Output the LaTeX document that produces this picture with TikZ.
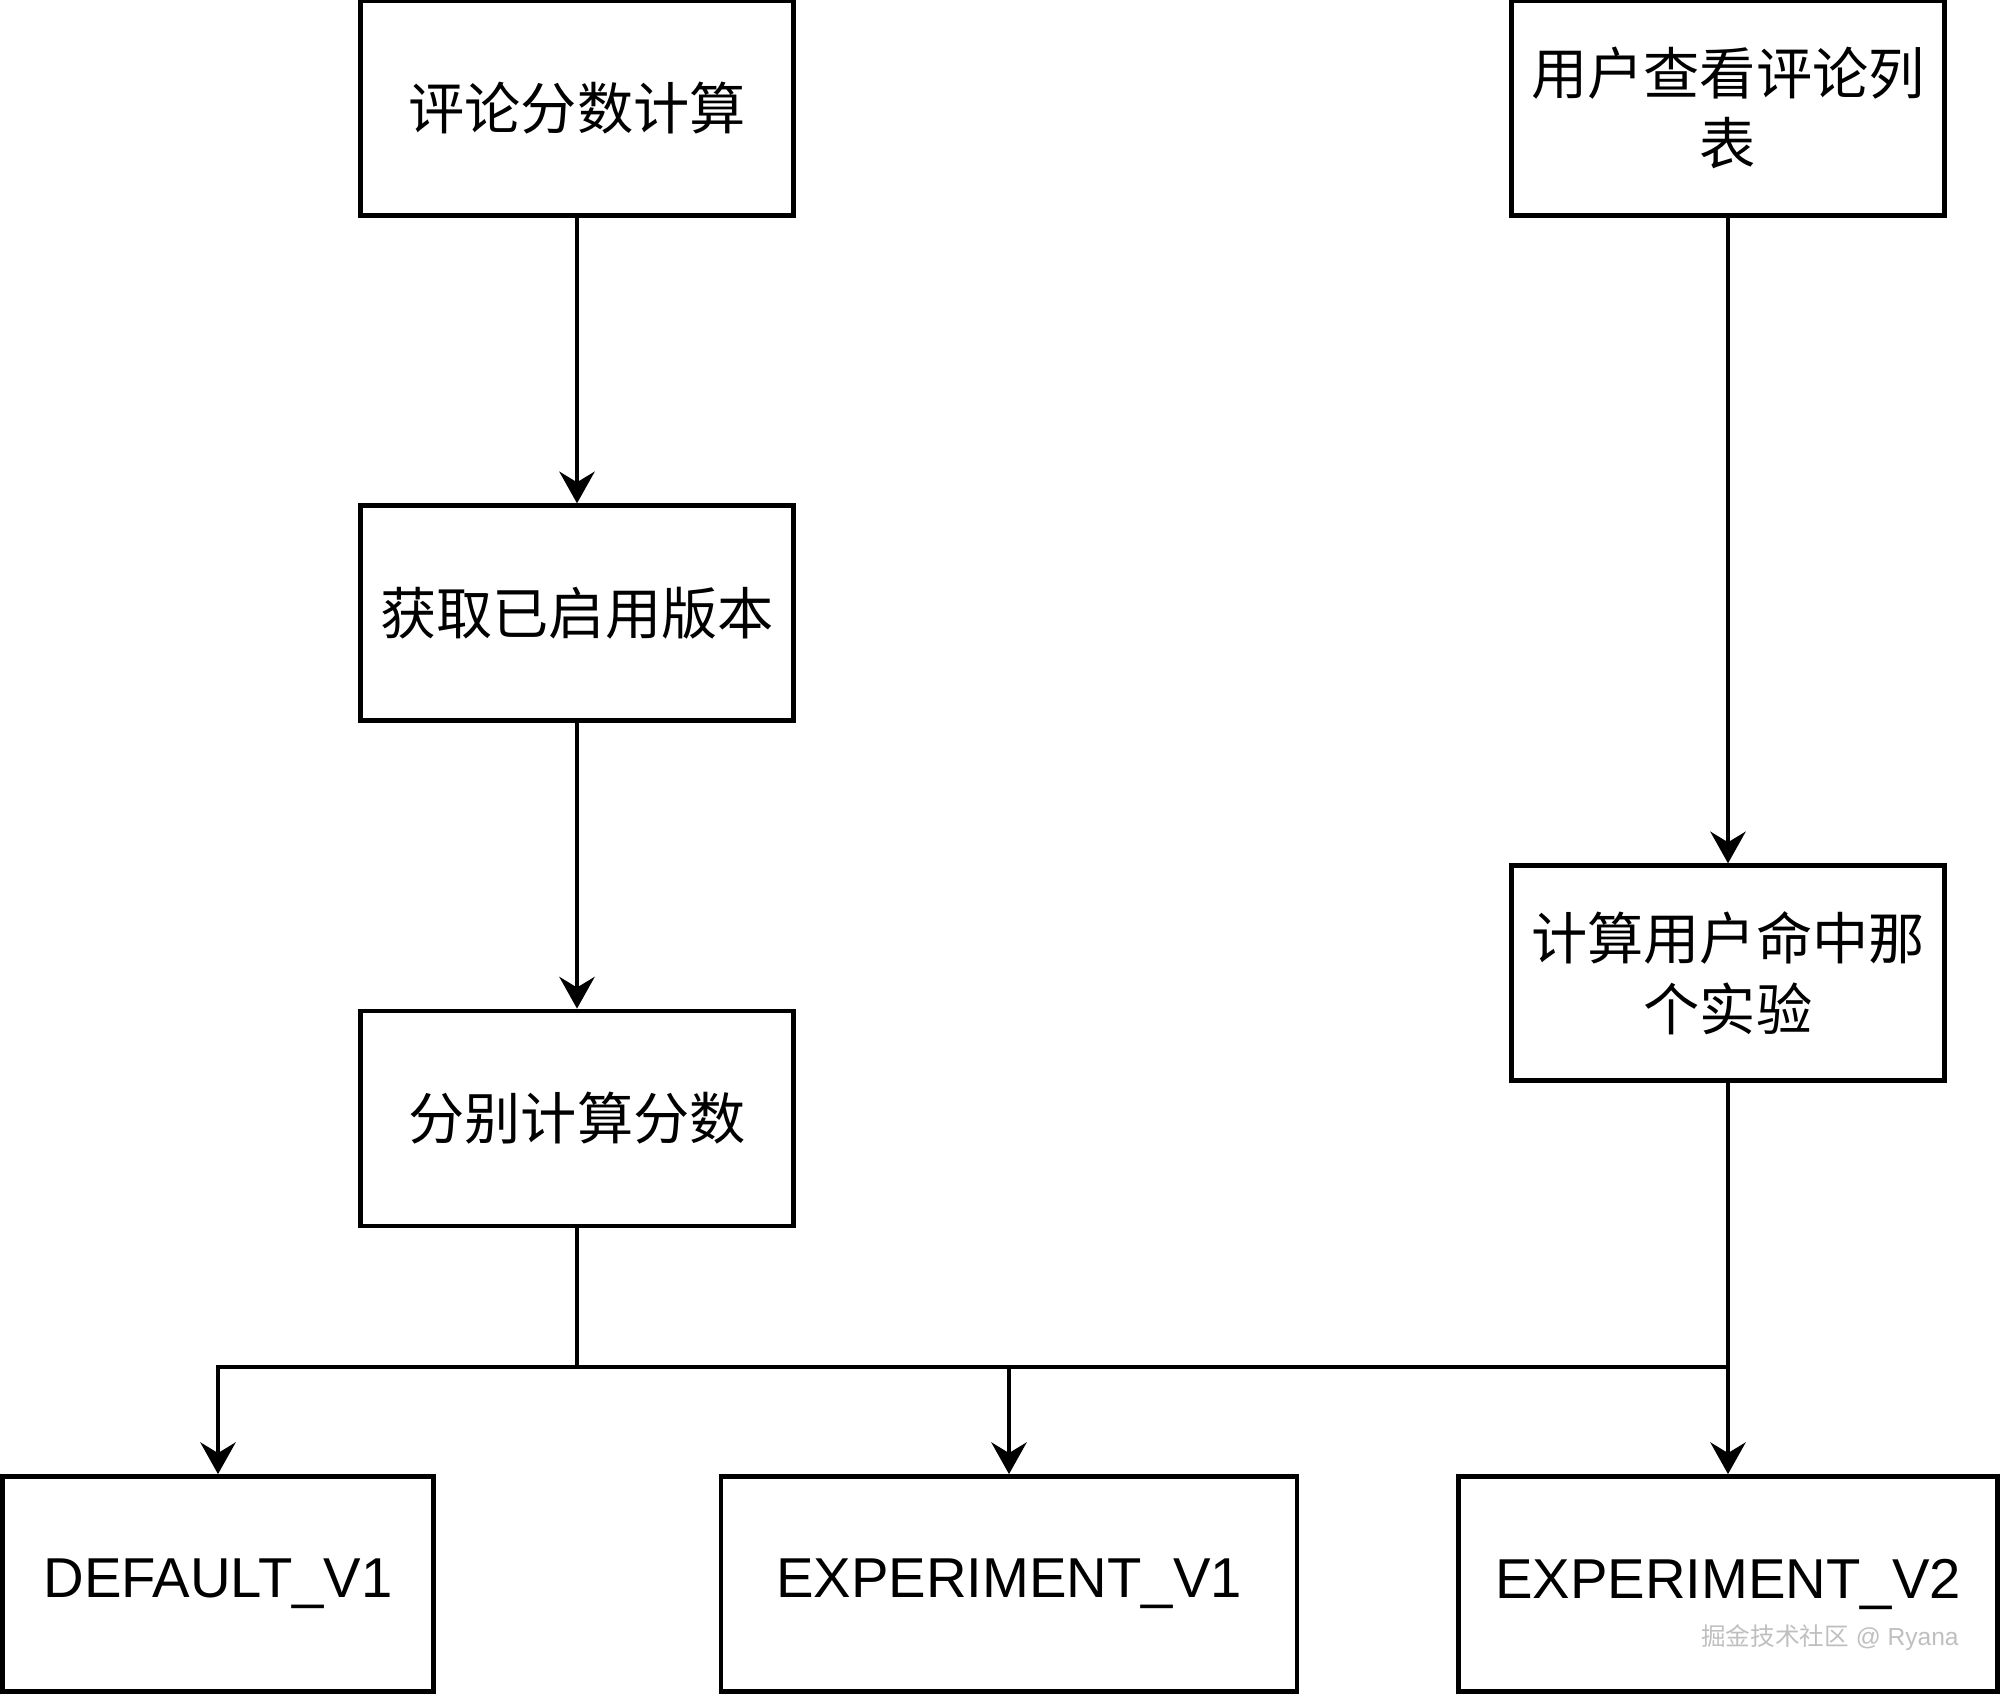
\documentclass[tikz,border=0pt]{standalone}
\usepackage{fontspec}
\setmainfont{Liberation Sans}
\newfontfamily\cjk{Noto Sans CJK SC}
\usetikzlibrary{positioning, arrows.meta}
\tikzset{
>={Stealth[length=9pt, width=10pt, inset=3pt]}, % bold concave arrow heads
box/.style={draw, rectangle, inner sep=0pt, minimum width=4.33cm, minimum height=2.15cm,
  align=center, font=\fontsize{16}{20}\selectfont}, % sets the properties for each box
mark text/.style={text=gray!50, font=\fontsize{7}{8}\selectfont}, % watermark text
}

\begin{document}
\begin{tikzpicture}[line width=1.35pt]
    \useasboundingbox (0,0) rectangle (20,16.94);
    \node[box] (score) at (5.77,15.86) {\cjk 评论分数计算};
    \node[box, below=2.855cm of score] (fetch) {\cjk 获取已启用版本};
    \node[box, below=2.855cm of fetch] (calc) {\cjk 分别计算分数};
    \node[box] (view) at (17.28,15.86) {\cjk 用户查看评论列\\\cjk 表};
    \node[box, below=6.455cm of view] (hit) {\cjk 计算用户命中那\\\cjk 个实验};
    \node[box, minimum width=4.31cm] (default) at (2.18,1.10) {DEFAULT\_V1};
    \node[box, minimum width=5.76cm] (exp1) at (10.09,1.10) {EXPERIMENT\_V1};
    \node[box, minimum width=5.39cm] (exp2) at (17.28,1.10) {EXPERIMENT\_V2};
    \node[mark text] (mark) at (18.30,0.56) {\cjk 掘金技术社区\rmfamily{} @ Ryana};
    \coordinate (bus) at (0,3.27);
    \draw[->] (score) -- (fetch);
    \draw[->] (fetch) -- (calc);
    \draw[->] (view) -- (hit);
    \draw[->] (hit) -- (exp2);
    \draw[->] (calc.south) -- (calc.south |- bus) -| (default.north);
    \draw[->] (calc.south |- bus) -| (exp1.north);
    \draw (hit.south |- bus) -- (exp1.north |- bus);
\end{tikzpicture}
\end{document}
